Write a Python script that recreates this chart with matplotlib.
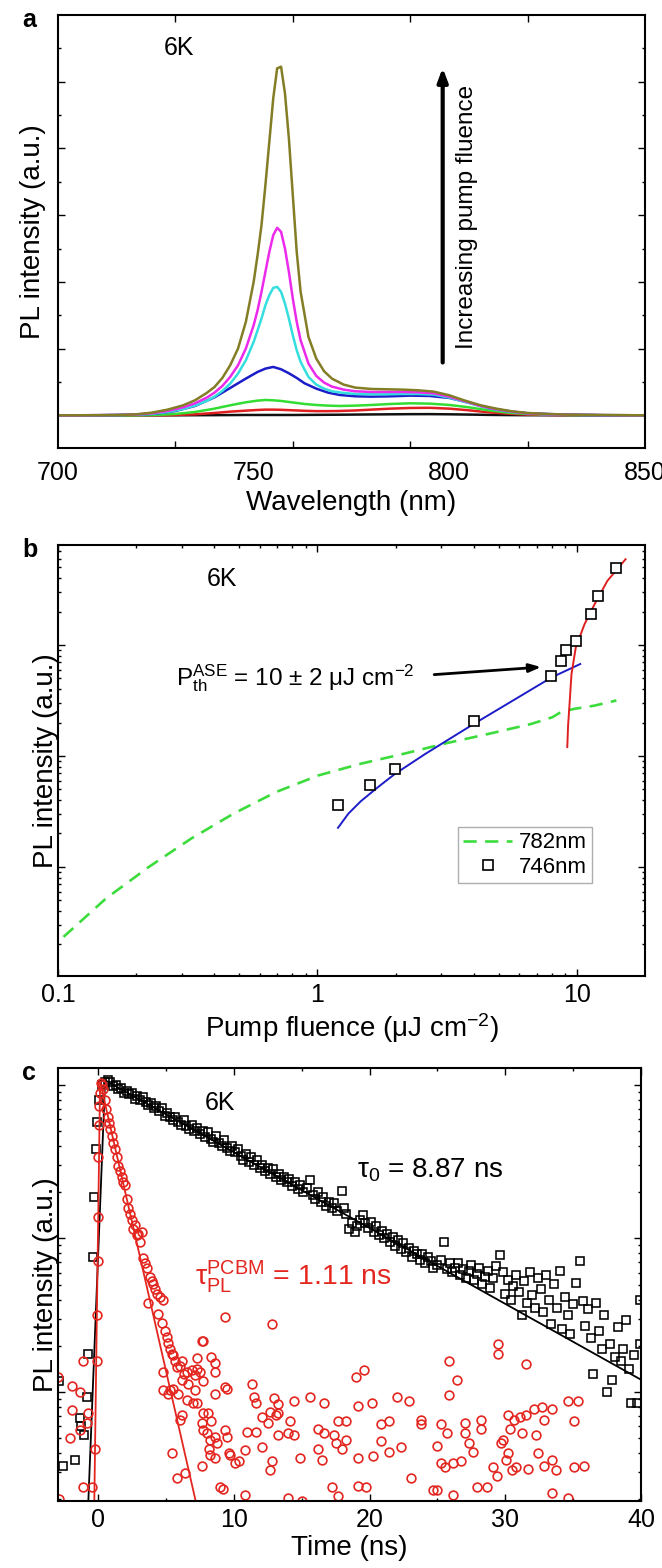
import numpy as np
import matplotlib
matplotlib.use('Agg')
import matplotlib.pyplot as plt
from matplotlib.ticker import LogLocator, NullFormatter, FixedLocator
from matplotlib.lines import Line2D

plt.rcParams['font.family'] = ['Liberation Sans', 'DejaVu Sans']
plt.rcParams['mathtext.fontset'] = 'custom'
plt.rcParams['mathtext.rm'] = 'Liberation Sans'
plt.rcParams['mathtext.it'] = 'Liberation Sans:italic'
plt.rcParams['mathtext.bf'] = 'Liberation Sans:bold'
plt.rcParams['axes.unicode_minus'] = False

# ---------------- Panel a: PL spectra ----------------
wl_fine = [700, 705, 710, 715, 720, 724, 728, 732, 735, 738, 740, 742, 744, 746, 748,
           750, 751, 752, 753, 754, 755, 756, 757, 758, 759, 760, 761, 762, 764, 766,
           768, 770, 773, 776, 780, 784, 788, 792, 796, 800, 804, 808, 812, 816, 820,
           825, 830, 840, 850]
spec_olive = [0, 0, 0.005, 0.01, 0.03, 0.08, 0.17, 0.3, 0.45, 0.67, 0.85, 1.12, 1.5, 2.0, 2.8,
              4.0, 4.8, 5.7, 6.9, 8.2, 9.5, 10.4, 10.45, 9.65, 8.3, 6.6, 4.9, 3.7, 2.35, 1.7,
              1.32, 1.1, 0.92, 0.83, 0.79, 0.78, 0.77, 0.75, 0.71, 0.6, 0.44, 0.3, 0.2, 0.12, 0.07,
              0.04, 0.02, 0.01, 0]
spec_magenta = [0, 0, 0.005, 0.01, 0.025, 0.06, 0.13, 0.24, 0.36, 0.53, 0.68, 0.88, 1.15, 1.5, 2.0,
                2.7, 3.15, 3.7, 4.3, 4.9, 5.4, 5.62, 5.5, 5.0, 4.3, 3.5, 2.8, 2.25, 1.55, 1.18,
                0.98, 0.86, 0.77, 0.72, 0.7, 0.7, 0.7, 0.69, 0.66, 0.56, 0.42, 0.28, 0.18, 0.11, 0.06,
                0.03, 0.02, 0.005, 0]
spec_cyan = [0, 0, 0.003, 0.008, 0.02, 0.045, 0.1, 0.19, 0.29, 0.43, 0.56, 0.73, 0.95, 1.25, 1.65,
             2.2, 2.55, 2.9, 3.3, 3.6, 3.82, 3.85, 3.7, 3.35, 2.9, 2.4, 1.95, 1.6, 1.15, 0.92,
             0.8, 0.72, 0.67, 0.64, 0.63, 0.63, 0.64, 0.64, 0.62, 0.53, 0.4, 0.27, 0.17, 0.1, 0.06,
             0.03, 0.015, 0.005, 0]
wl_coarse = [700, 710, 720, 725, 730, 735, 740, 744, 748, 751, 753, 755, 757, 759, 761, 763,
             766, 769, 772, 776, 780, 785, 790, 795, 800, 805, 810, 815, 820, 830, 840, 850]
spec_blue = [0, 0, 0.02, 0.05, 0.13, 0.28, 0.54, 0.82, 1.1, 1.3, 1.4, 1.45, 1.38, 1.26, 1.12, 0.96,
             0.8, 0.68, 0.61, 0.57, 0.56, 0.57, 0.59, 0.58, 0.52, 0.38, 0.22, 0.12, 0.06, 0.02, 0, 0]
spec_green = [0, 0, 0, 0.01, 0.04, 0.1, 0.2, 0.3, 0.39, 0.44, 0.46, 0.45, 0.43, 0.4, 0.37, 0.34,
              0.31, 0.29, 0.28, 0.29, 0.31, 0.34, 0.36, 0.35, 0.31, 0.24, 0.15, 0.08, 0.04, 0.01, 0, 0]
spec_red = [0, 0, 0, 0, 0.01, 0.03, 0.07, 0.11, 0.14, 0.16, 0.17, 0.17, 0.165, 0.155, 0.145, 0.135,
            0.125, 0.125, 0.13, 0.145, 0.17, 0.2, 0.22, 0.225, 0.2, 0.15, 0.09, 0.05, 0.02, 0.005, 0, 0]
spec_black = [0, 0, 0, 0, 0, 0.003, 0.005, 0.007, 0.01, 0.01, 0.01, 0.01, 0.01, 0.01, 0.01, 0.012,
              0.014, 0.016, 0.018, 0.022, 0.026, 0.03, 0.034, 0.035, 0.03, 0.022, 0.013, 0.007, 0.003, 0, 0, 0]

# ---------------- Panel b: PL vs pump fluence ----------------
pump_746 = [1.2, 1.6, 1.99, 4.0, 7.98, 8.67, 9.08, 9.9, 11.3, 12.1, 14.1]
pl_746 = [36.3, 54.8, 76.4, 207, 523, 720, 898, 1090, 1891, 2767, 4978]
fit_low_pump = [1.2, 1.316, 1.47, 1.714, 1.99, 2.6, 4.0, 5.52, 7.98, 10.3]
fit_low_pl = [22.5, 30.2, 39.1, 52.5, 68.9, 104, 194, 304, 509, 673]
fit_high_pump = [9.18, 9.25, 9.35, 9.53, 9.9, 10.7, 11.7, 13.1, 15.4]
fit_high_pl = [120, 190, 274, 546, 949, 1538, 2328, 3776, 5917]
pump_782 = [0.105, 0.153, 0.224, 0.326, 0.475, 0.693, 1.01, 1.47, 2.15, 3.13, 4.57, 6.66,
            8.04, 8.67, 9.72, 11.7, 14.2]
pl_782 = [2.34, 5.19, 10.0, 18.0, 30.2, 47.3, 66.8, 85.1, 104.5, 130, 158, 194,
          223, 248, 265, 284, 316]

# ---------------- Panel c: time-resolved PL (log10 intensity) ----------------
black_t = [-2.85, -2.55, -1.7, -1.35, -1.25, -1.0, -0.85, -0.72, -0.34, -0.27, -0.15, -0.1, 0.1, 0.3,
           0.5, 0.7, 0.9, 1.1, 1.3, 1.5, 1.7, 1.9, 2.1, 2.3, 2.5, 2.7, 2.9, 3.1, 3.3, 3.5, 3.7, 3.9,
           4.1, 4.3, 4.5, 4.7, 4.9, 5.1, 5.3, 5.5, 5.7, 5.9, 6.1, 6.3, 6.5, 6.7, 6.9, 7.1, 7.3, 7.5,
           7.7, 7.9, 8.1, 8.3, 8.5, 8.7, 8.9, 9.1, 9.3, 9.5, 9.7, 9.9, 10.1, 10.3, 10.5, 10.7, 10.9,
           11.1, 11.3, 11.5, 11.7, 11.9, 12.1, 12.3, 12.5, 12.7, 12.9, 13.1, 13.3, 13.5, 13.7, 13.9,
           14.1, 14.3, 14.5, 14.7, 14.9, 15.1, 15.4, 15.6, 15.8, 16.0, 16.2, 16.4, 16.6, 16.8, 17.0,
           17.2, 17.4, 17.6, 17.95, 18.1, 18.3, 18.5, 18.7, 18.9, 19.1, 19.3, 19.5, 19.7, 19.9, 20.1,
           20.3, 20.5, 20.7, 20.9, 21.1, 21.3, 21.5, 21.7, 21.9, 22.1, 22.3, 22.5, 22.7, 22.9, 23.1,
           23.3, 23.5, 23.7, 23.9, 24.1, 24.3, 24.5, 24.7, 25.0, 25.3, 25.5, 25.7, 25.9, 26.1, 26.3,
           26.5, 26.7, 26.9, 27.1, 27.3, 27.5, 27.7, 27.9, 28.1, 28.3, 28.5, 28.7, 28.9, 29.1, 29.3,
           29.6, 29.8, 30.0, 30.2, 30.4, 30.6, 30.8, 31.0, 31.2, 31.4, 31.6, 31.8, 32.0, 32.2, 32.4,
           32.6, 32.8, 33.0, 33.2, 33.4, 33.6, 33.8, 34.0, 34.2, 34.4, 34.6, 34.8, 35.0, 35.2, 35.5,
           35.7, 35.9, 36.1, 36.3, 36.5, 36.7, 36.9, 37.1, 37.3, 37.5, 37.7, 37.9, 38.1, 38.3, 38.5,
           38.7, 38.9, 39.1, 39.3, 39.5, 39.7, 39.9, 39.95]
black_log10 = [-1.93, -2.48, -2.44, -2.17, -2.22, -2.28, -2.03, -1.75, -1.12, -0.73, -0.42, -0.24, -0.1, 0.0,
               0.02, 0.03, 0.02, -0.01, 0.0, -0.03, -0.02, -0.05, -0.04, -0.06, -0.05, -0.09, -0.07, -0.1, -0.08, -0.11, -0.13, -0.12,
               -0.15, -0.14, -0.17, -0.15, -0.2, -0.18, -0.21, -0.23, -0.21, -0.24, -0.26, -0.23, -0.27, -0.29, -0.26, -0.3, -0.28, -0.32,
               -0.3, -0.34, -0.31, -0.35, -0.37, -0.33, -0.38, -0.4, -0.36, -0.41, -0.43, -0.4, -0.44, -0.42, -0.46, -0.49, -0.45,
               -0.5, -0.47, -0.52, -0.49, -0.54, -0.52, -0.56, -0.54, -0.58, -0.55, -0.6, -0.58, -0.62, -0.6, -0.63,
               -0.61, -0.66, -0.63, -0.68, -0.65, -0.7, -0.67, -0.62, -0.72, -0.74, -0.7, -0.76, -0.73, -0.79, -0.76,
               -0.8, -0.77, -0.82, -0.69, -0.8, -0.84, -0.94, -0.9, -0.96, -0.92, -0.88, -0.85, -0.9, -0.93, -0.89,
               -0.96, -0.92, -0.98, -0.95, -1.0, -0.97, -1.02, -0.99, -1.05, -1.01, -1.07, -1.03, -1.09, -1.06, -1.12,
               -1.08, -1.1, -1.14, -1.1, -1.16, -1.12, -1.15, -1.19, -1.17, -1.14, -1.02, -1.2, -1.16, -1.22, -1.19,
               -1.16, -1.24, -1.2, -1.26, -1.21, -1.17, -1.27, -1.23, -1.19, -1.3, -1.25, -1.21, -1.32, -1.26, -1.18,
               -1.11, -1.22, -1.36, -1.27, -1.4, -1.31, -1.24, -1.35, -1.5, -1.28, -1.42, -1.22, -1.37, -1.45, -1.26,
               -1.33, -1.48, -1.24, -1.4, -1.56, -1.3, -1.45, -1.21, -1.59, -1.38, -1.5, -1.62, -1.43, -1.29, -1.15,
               -1.41, -1.57, -1.46, -1.65, -1.88, -1.42, -1.6, -1.72, -1.5, -2.0, -1.69, -1.92, -1.77, -1.58, -1.8,
               -1.72, -1.53, -1.85, -2.07, -1.76, -2.07, -1.69, -1.4]
black_fit_t = [-0.8, 0.52, 40.0]
black_fit_log10 = [-2.9, 0.03, -1.92]

red_t = [-2.95, -2.9, -1.94, -1.94, -2.08, -1.33, -1.33, -1.08, -1.08, -0.71, -0.79, -0.47, -0.22,
         -0.1, -0.08, -0.02, 0.0, 0.02, 0.05, 0.08, 0.12, 0.2, 0.3,
         0.39, 0.5, 0.6, 0.7, 0.8, 0.9, 1.0, 1.13, 1.25, 1.37, 1.5, 1.62, 1.74, 1.87, 1.99, 2.11,
         2.23, 2.35, 2.48, 2.6, 2.73, 2.85, 2.97, 3.1, 3.22, 3.34, 3.46, 3.58, 3.71, 3.83, 3.95,
         4.08, 4.2, 4.32, 4.45, 4.57, 4.69, 4.81, 4.93, 5.06, 5.18, 5.3, 5.43, 5.55, 5.67, 5.8,
         6.04, 6.16, 6.3, 6.53,
         4.81, 5.55, 6.16, 6.65, 7.14, 4.81, 5.18, 5.92, 6.53, 5.43, 6.16, 6.4, 5.8, 8.13, 7.64,
         8.0, 8.25, 7.64, 8.25, 8.74, 9.35, 9.72, 8.99, 7.64, 9.48, 6.9, 7.51, 6.04, 7.02, 5.3,
         9.33, 12.84, 7.72, 8.6, 9.33, 7.28, 8.3, 8.6, 7.28, 7.13, 7.72, 8.6, 7.28, 7.72, 8.3,
         7.72, 8.6, 8.16, 8.6, 11.37, 11.52, 11.67, 12.98, 13.27, 12.69, 13.13, 14.44, 15.61,
         16.64, 17.66, 18.25, 18.98, 19.56, 19.12, 20.15, 22.05, 22.92, 23.8, 25.26, 25.85, 26.43,
         25.85, 27.02, 28.19, 29.5, 29.5, 31.55, 34.62, 35.35, 35.06, 32.13, 32.72, 30.23, 30.67,
         31.11,
         9.47, 9.62, 10.06, 10.35, 10.79, 10.94, 11.67, 12.11, 12.84, 12.69, 13.27, 14.01, 14.88,
         16.2, 16.49, 16.64, 17.37, 17.51, 17.95, 18.25, 19.12, 19.12, 19.71, 20.29, 20.88, 21.46,
         22.34, 23.07, 23.8, 24.97, 25.26, 25.56, 26.14, 26.73, 27.02, 27.31, 27.6, 27.89, 28.63,
         28.19, 29.06, 29.36, 29.65, 30.09, 30.23, 30.53, 30.82, 31.7, 32.28, 32.43, 32.87, 33.45,
         33.74, 33.45, 34.62, 35.79, 35.06, 17.22, 17.66, 24.68, 26.14, 14.01, 15.03, 10.79, 9.18,
         12.11, 12.54, 13.27, 14.15, 14.44, 20.88, 21.46, 25.7, 24.97, 30.38, 33.45, 32.87, 31.55,
         16.2, 29.8, 31.26]
red_log10 = [-1.9, -2.7, -1.96, -2.12, -2.3, -2.0, -2.25, -1.8, -2.62, -2.14, -2.2, -2.62, -2.37,
             -1.8, -1.5, -1.15, -0.86, -0.47, -0.26, -0.14, -0.05, 0.01, 0.0,
             -0.03, -0.1, -0.16, -0.21, -0.25, -0.29, -0.33, -0.38, -0.42, -0.47, -0.53, -0.56, -0.6, -0.63, -0.65, -0.74,
             -0.8, -0.84, -0.88, -0.94, -0.91, -0.98, -0.97, -1.02, -0.96, -1.13, -1.16, -1.19, -1.42, -1.25, -1.28,
             -1.3, -1.33, -1.36, -1.49, -1.38, -1.55, -1.4, -1.6, -1.64, -1.68, -1.72, -1.75, -1.76, -1.8, -1.84,
             -1.83, -1.8, -1.88, -1.87,
             -1.87, -1.98, -1.92, -1.95, -1.99, -1.99, -2.01, -2.01, -2.05, -2.4, -2.15, -2.53, -2.56, -2.14, -2.2,
             -2.27, -2.31, -2.48, -2.41, -2.33, -2.25, -2.41, -2.62, -1.67, -1.98, -1.86, -1.87, -2.18, -2.07, -1.99,
             -1.51, -1.56, -1.67, -1.87, -1.97, -1.78, -1.77, -1.81, -1.85, -1.89, -1.93, -2.01, -2.07, -2.14, -2.19,
             -2.25, -2.29, -2.37, -2.43, -1.95, -2.03, -2.07, -2.04, -2.08, -2.13, -2.15, -2.06, -2.03,
             -2.07, -2.19, -2.19, -1.9, -1.86, -2.09, -2.07, -2.03, -2.06, -2.18, -2.21, -1.8, -1.92,
             -2.02, -2.2, -2.18, -1.69, -1.75, -1.82, -2.06, -2.06, -2.19, -2.11, -2.1, -2.15, -2.18,
             -2.16,
             -2.29, -2.4, -2.46, -2.45, -2.38, -2.26, -2.26, -2.36, -2.45, -2.51, -2.28, -2.27, -2.43,
             -2.37, -2.44, -2.27, -2.28, -2.33, -2.37, -2.31, -2.43, -2.61, -2.62, -2.42, -2.32, -2.39,
             -2.36, -2.56, -2.21, -2.64, -2.46, -2.49, -2.46, -2.45, -2.27, -2.33, -2.39, -2.62, -2.62,
             -2.24, -2.49, -2.55, -2.33, -2.44, -2.4, -2.51, -2.49, -2.5, -2.28, -2.4, -2.48, -2.44,
             -2.51, -2.66, -2.69, -2.48, -2.49, -2.62, -2.68, -2.64, -2.67, -2.69, -2.71, -2.67, -2.63,
             -2.16, -2.2, -2.14, -2.19, -2.28, -2.21, -2.19, -2.27, -2.35, -2.24, -2.11, -2.18, -2.15,
             -2.24, -2.31, -2.27]
red_fit_t = [-0.32, 0.15, 7.94]
red_fit_log10 = [-3.0, 0.02, -3.0]

# ---------------- Figure ----------------
fig = plt.figure(figsize=(6.62, 15.68), dpi=100)
W, H = 662.0, 1568.0

def axes_px(left, top, right, bottom):
    return fig.add_axes([left / W, 1 - bottom / H, (right - left) / W, (bottom - top) / H])

ax_a = axes_px(58, 15, 645, 448)
ax_b = axes_px(58, 545, 645, 976)
ax_c = axes_px(58, 1068, 641, 1501)

TICK_FS = 18
LAB_FS = 20
for ax in (ax_a, ax_b, ax_c):
    for sp in ax.spines.values():
        sp.set_linewidth(1.5)
    ax.tick_params(which='both', direction='in', top=True, right=True, labelsize=TICK_FS, width=1.0)
    ax.tick_params(which='major', length=5)
    ax.tick_params(which='minor', length=2.5)
    ax.tick_params(axis='x', which='major', pad=5)

# Panel a
lw_a = 1.8
ax_a.plot(wl_coarse, spec_black, color='#111111', lw=lw_a)
ax_a.plot(wl_coarse, spec_red, color='#e02020', lw=lw_a)
ax_a.plot(wl_coarse, spec_green, color='#33dd33', lw=lw_a)
ax_a.plot(wl_coarse, spec_blue, color='#1c1cc8', lw=lw_a)
ax_a.plot(wl_fine, spec_cyan, color='#35dede', lw=lw_a)
ax_a.plot(wl_fine, spec_magenta, color='#ec2aec', lw=lw_a)
ax_a.plot(wl_fine, spec_olive, color='#837d25', lw=lw_a)
ax_a.set_xlim(700, 850)
ax_a.set_ylim(-0.98, 12.0)
ax_a.set_xticks([700, 750, 800, 850])
ax_a.set_xticks([730, 760, 790, 820], minor=True)
ax_a.tick_params(axis='x', which='major', length=0, pad=9)
ax_a.tick_params(axis='x', which='minor', length=5)
ax_a.set_yticks([0, 2, 4, 6, 8, 10])
ax_a.set_yticks([1, 3, 5, 7, 9, 11], minor=True)
ax_a.set_yticklabels([])
ax_a.set_xlabel('Wavelength (nm)', fontsize=LAB_FS, labelpad=4)
ax_a.set_ylabel('PL intensity (a.u.)', fontsize=LAB_FS, labelpad=5)
ax_a.text(0.18, 0.907, '6K', transform=ax_a.transAxes, fontsize=18, ha='left', va='baseline')
ax_a.annotate('', xy=(798.3, 10.5), xytext=(798.3, 1.5),
              arrowprops=dict(arrowstyle='-|>,head_length=0.8,head_width=0.3', color='k', lw=3.0))
ax_a.text(804.4, 5.95, 'Increasing pump fluence', rotation=90, fontsize=17.5,
          ha='center', va='center')

# Panel b
ax_b.set_xscale('log')
ax_b.set_yscale('log')
ax_b.plot(pump_782, pl_782, color='#3ddc3d', lw=1.9, dashes=(5.0, 3.2))
ax_b.plot(fit_low_pump, fit_low_pl, color='#1c1cc8', lw=1.4)
ax_b.plot(fit_high_pump, fit_high_pl, color='#e02020', lw=1.4)
ax_b.plot(pump_746, pl_746, ls='none', marker='s', ms=6.5, mfc='white', mec='k', mew=1.2)
ax_b.set_xlim(0.1, 18.3)
ax_b.set_ylim(1.04, 7950)
ax_b.xaxis.set_major_locator(FixedLocator([0.1, 1, 10]))
ax_b.set_xticklabels(['0.1', '1', '10'])
ax_b.xaxis.set_minor_locator(LogLocator(base=10, subs=np.arange(2, 10)))
ax_b.xaxis.set_minor_formatter(NullFormatter())
ax_b.yaxis.set_major_locator(LogLocator(base=10))
ax_b.yaxis.set_minor_locator(LogLocator(base=10, subs=np.arange(2, 10)))
ax_b.yaxis.set_major_formatter(NullFormatter())
ax_b.yaxis.set_minor_formatter(NullFormatter())
ax_b.set_xlabel('Pump fluence (μJ cm$^{\\mathrm{-2}}$)', fontsize=LAB_FS, labelpad=3)
ax_b.set_ylabel('PL intensity (a.u.)', fontsize=LAB_FS, labelpad=-4)
ax_b.text(0.253, 0.906, '6K', transform=ax_b.transAxes, fontsize=18, ha='left', va='baseline')
ax_b.annotate('', xy=(7.46, 634), xytext=(2.75, 538),
              arrowprops=dict(arrowstyle='-|>,head_length=0.7,head_width=0.25', color='k', lw=2.0))
ax_b.text(0.2855, 428, 'P$_{\\mathrm{th}}^{\\mathrm{ASE}}$ = 10 ± 2 μJ cm$^{\\mathrm{-2}}$',
          fontsize=17.5, ha='left', va='baseline')
handles = [Line2D([], [], color='#3ddc3d', lw=1.9, dashes=(5.0, 3.2)),
           Line2D([], [], ls='none', marker='s', ms=6.5, mfc='white', mec='k', mew=1.2)]
leg = ax_b.legend(handles, ['782nm', '746nm'], loc='upper right', bbox_to_anchor=(0.91, 0.346),
                  fontsize=16, frameon=True, fancybox=False, edgecolor='#9a9a9a',
                  handlelength=2.2, handletextpad=0.3, borderpad=0.25, labelspacing=0.15,
                  borderaxespad=0.0)
leg.get_frame().set_linewidth(1.0)

# Panel c
red_c = '#e3261f'
ax_c.set_yscale('log')
ax_c.plot(black_fit_t, 10 ** np.array(black_fit_log10), color='k', lw=1.3)
ax_c.plot(black_t, 10 ** np.array(black_log10), ls='none', marker='s', ms=6.2,
          mfc='none', mec='k', mew=1.15)
ax_c.plot(red_fit_t, 10 ** np.array(red_fit_log10), color=red_c, lw=1.3)
ax_c.plot(red_t, 10 ** np.array(red_log10), ls='none', marker='o', ms=6.3,
          mfc='none', mec=red_c, mew=1.2)
ax_c.set_xlim(-2.95, 40)
ax_c.set_ylim(10 ** -2.71, 10 ** 0.11)
ax_c.set_xticks([0, 10, 20, 30, 40])
ax_c.set_xticks([5, 15, 25, 35], minor=True)
ax_c.yaxis.set_major_locator(LogLocator(base=10))
ax_c.yaxis.set_minor_locator(LogLocator(base=10, subs=np.arange(2, 10)))
ax_c.yaxis.set_major_formatter(NullFormatter())
ax_c.yaxis.set_minor_formatter(NullFormatter())
ax_c.set_xlabel('Time (ns)', fontsize=LAB_FS, labelpad=2)
ax_c.set_ylabel('PL intensity (a.u.)', fontsize=LAB_FS, labelpad=-4)
ax_c.text(0.252, 0.903, '6K', transform=ax_c.transAxes, fontsize=18, ha='left', va='baseline')
ax_c.text(19.1, 10 ** -0.606, 'τ$_{\\mathrm{0}}$ = 8.87 ns', fontsize=20, ha='left', va='baseline')
ax_c.text(7.13, 10 ** -1.303, 'τ$_{\\mathrm{PL}}^{\\mathrm{PCBM}}$ = 1.11 ns', fontsize=20.5,
          ha='left', va='baseline', color=red_c)

# Panel letters
fig.text(22 / W, 1 - 27 / H, 'a', fontsize=18, fontweight='bold', ha='left', va='baseline')
fig.text(22 / W, 1 - 557 / H, 'b', fontsize=18, fontweight='bold', ha='left', va='baseline')
fig.text(22 / W, 1 - 1080 / H, 'c', fontsize=18, fontweight='bold', ha='left', va='baseline')

fig.savefig('out.png', dpi=100)
